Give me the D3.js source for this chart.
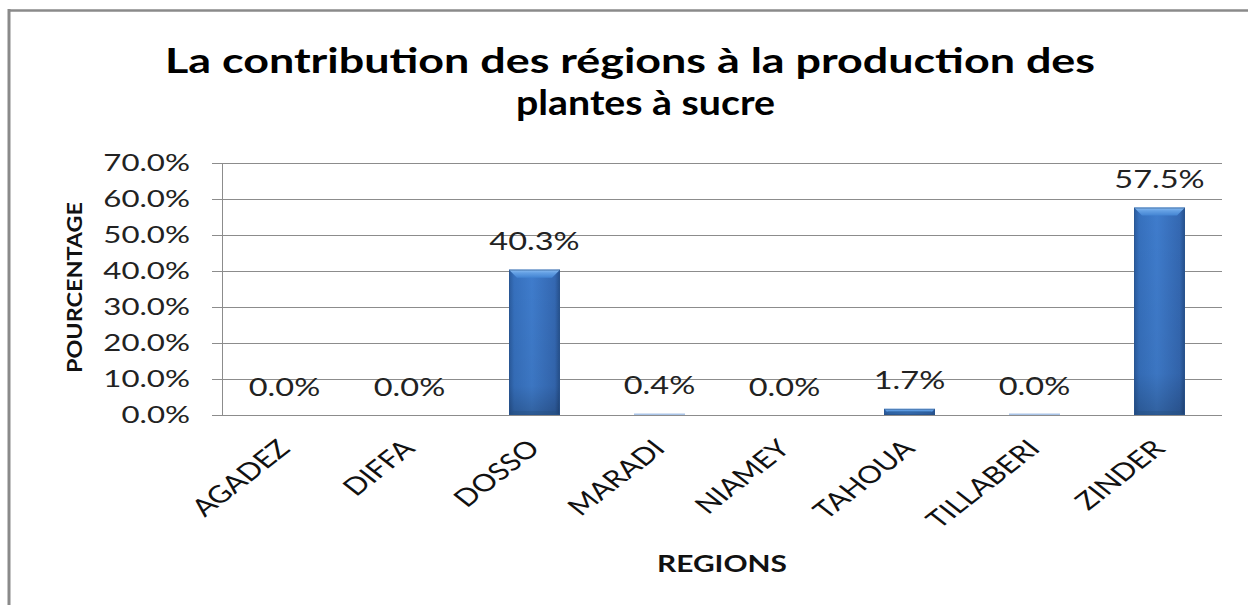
<!DOCTYPE html>
<html><head><meta charset="utf-8">
<script src="https://cdn.jsdelivr.net/npm/d3@7"></script>
<style>html,body{margin:0;padding:0;background:#fff;overflow:hidden}</style>
</head><body>
<svg id="c" width="1248" height="605"></svg>
<script>
const categories = ["AGADEZ","DIFFA","DOSSO","MARADI","NIAMEY","TAHOUA","TILLABERI","ZINDER"];
const values = [0, 0, 40.3, 0.4, 0, 1.7, 0.03, 57.5];
const yTicks = [0, 10, 20, 30, 40, 50, 60, 70];
const titleLines = ["La contribution des régions à la production des", "plantes à sucre"];
const yTitle = "POURCENTAGE";
const xTitle = "REGIONS";

const svg = d3.select("#c");
const FONT = "Lato, 'Open Sans', 'DejaVu Sans', sans-serif";
const SX = 1.28; // horizontal stretch of the reference

// frame
svg.append("line").attr("x1",9).attr("x2",9).attr("y1",9).attr("y2",605).attr("stroke","#8a8a8a").attr("stroke-width",3);
svg.append("line").attr("x1",8).attr("x2",1248).attr("y1",10.5).attr("y2",10.5).attr("stroke","#8a8a8a").attr("stroke-width",2.5);

const x = d3.scaleBand().domain(categories).range([222,1222]).paddingInner(0.592).paddingOuter(0.296);
const y = d3.scaleLinear().domain([0,70]).range([415,162.5]);

function stretch(sel, f){
  sel.each(function(){ const w=this.getComputedTextLength(); d3.select(this).attr("textLength", w*f).attr("lengthAdjust","spacingAndGlyphs"); });
}
function fit(sel, w){ sel.attr("textLength", w).attr("lengthAdjust","spacingAndGlyphs"); }

// defs
const defs = svg.append("defs");
const gh = defs.append("linearGradient").attr("id","gh").attr("x1","0").attr("x2","1").attr("y1","0").attr("y2","0");
[[0,"#2a5a9c"],[0.1,"#3670bd"],[0.45,"#3f7ccc"],[0.9,"#3468b2"],[1,"#254f8a"]].forEach(s=>gh.append("stop").attr("offset",s[0]).attr("stop-color",s[1]));
const gv = defs.append("linearGradient").attr("id","gv").attr("x1","0").attr("x2","0").attr("y1","0").attr("y2","1");
[[0,"#000",0],[0.8,"#000",0.05],[1,"#000",0.22]].forEach(s=>gv.append("stop").attr("offset",s[0]).attr("stop-color",s[1]).attr("stop-opacity",s[2]));
const gt = defs.append("linearGradient").attr("id","gt").attr("x1","0").attr("x2","0").attr("y1","0").attr("y2","1");
[[0,"#8fc0f2"],[0.4,"#64a0e4"],[1,"#4384d2"]].forEach(s=>gt.append("stop").attr("offset",s[0]).attr("stop-color",s[1]));

// gridlines
const gridG = svg.append("g");
gridG.selectAll("line").data(yTicks).join("line")
  .attr("x1",212).attr("x2",1222).attr("y1",d=>Math.round(y(d))+0.5).attr("y2",d=>Math.round(y(d))+0.5)
  .attr("stroke","#8c8c8c").attr("stroke-width",1);
// y axis line
svg.append("line").attr("x1",222.5).attr("x2",222.5).attr("y1",Math.round(y(70))+0.5).attr("y2",Math.round(y(0))+0.5).attr("stroke","#8c8c8c");

// y tick labels
svg.append("g").selectAll("text").data(yTicks).join("text")
  .attr("x",190).attr("y",d=>y(d)+8).attr("text-anchor","end")
  .attr("font-family",FONT).attr("font-size",24).attr("fill","#222")
  .text(d=>d3.format(".1f")(d)+"%").call(stretch,1.3);

// bars
const data = categories.map((c,i)=>({c, v: values[i]}));
const barG = svg.append("g");
const bw = x.bandwidth();
data.forEach(d=>{
  const x0 = x(d.c), y0 = y(d.v), h = y(0)-y(d.v);
  if (h <= 0) return;
  const g = barG.append("g");
  if (h < 3) {
    g.append("rect").attr("x",x0).attr("y",y(0)-Math.max(h,1.5)).attr("width",bw).attr("height",Math.max(h,1.5)).attr("fill", h>2 ? "url(#gh)" : "#a9c4e8");
    if (h>2) g.append("rect").attr("x",x0+1).attr("y",y0).attr("width",bw-2).attr("height",1.5).attr("fill","#6aa6e8");
    return;
  }
  g.append("rect").attr("x",x0).attr("y",y0).attr("width",bw).attr("height",h).attr("fill","url(#gh)");
  g.append("rect").attr("x",x0).attr("y",y0).attr("width",bw).attr("height",h).attr("fill","url(#gv)");
  const bev = Math.min(8, h/2);
  g.append("path").attr("d",`M${x0},${y0}L${x0+bw},${y0}L${x0+bw-bev},${y0+bev}L${x0+bev},${y0+bev}Z`).attr("fill","url(#gt)");
  g.append("path").attr("d",`M${x0},${y0+h}L${x0+bw},${y0+h}L${x0+bw-4},${y0+h-4}L${x0+4},${y0+h-4}Z`).attr("fill","#24507f").attr("opacity",0.35);
  g.append("rect").attr("x",x0+0.5).attr("y",y0+0.5).attr("width",bw-1).attr("height",h-1).attr("fill","none").attr("stroke","#2a5590").attr("stroke-opacity",0.6);
});

// data labels
svg.append("g").selectAll("text").data(data).join("text")
  .attr("x",d=>x(d.c)+bw/2).attr("y",d=>y(d.v)-19.5).attr("text-anchor","middle")
  .attr("font-family",FONT).attr("font-size",25).attr("fill","#222")
  .text(d=>d3.format(".1f")(d.v)+"%").call(stretch,1.3);

// x labels rotated
svg.append("g").selectAll("text").data(categories).join("text")
  .attr("transform",c=>`translate(${x(c)+bw/2+7},${450}) scale(${SX},1) rotate(-45)`)
  .attr("text-anchor","end")
  .attr("font-family",FONT).attr("font-size",24).attr("fill","#111")
  .text(c=>c);

// axis titles
svg.append("text").attr("transform","translate(82,287.5) rotate(-90)").attr("text-anchor","middle")
  .attr("font-family",FONT).attr("font-weight","bold").attr("font-size",21).attr("fill","#111")
  .text(yTitle).call(fit,171);
svg.append("text").attr("x",722).attr("y",572).attr("text-anchor","middle")
  .attr("font-family",FONT).attr("font-weight","bold").attr("font-size",23).attr("fill","#111")
  .text(xTitle).call(fit,130);

// title
const tl = [{t:titleLines[0], cx:630, by:73, w:930},{t:titleLines[1], cx:645.5, by:115, w:259}];
svg.append("g").selectAll("text").data(tl).join("text")
  .attr("x",d=>d.cx).attr("y",d=>d.by).attr("text-anchor","middle")
  .attr("font-family",FONT).attr("font-weight","bold").attr("font-size",35).attr("fill","#000")
  .text(d=>d.t).each(function(d){ d3.select(this).call(fit,d.w); });
</script>
</body></html>
